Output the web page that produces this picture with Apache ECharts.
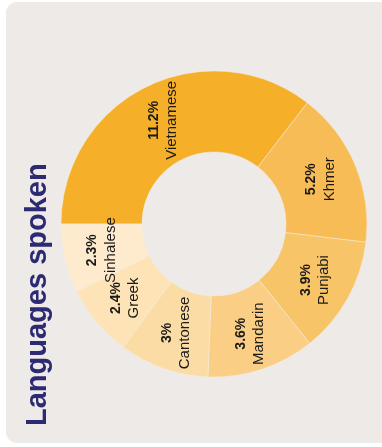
<!DOCTYPE html>
<html>
<head>
<meta charset="utf-8">
<script src="https://cdn.jsdelivr.net/npm/echarts@6/dist/echarts.min.js"></script>
<style>
  html, body { margin: 0; padding: 0; background: #ffffff; }
  #chart { width: 382px; height: 447px; }
</style>
</head>
<body>
<div id="chart"></div>
<script>
// languages, clockwise from 9 o'clock
const languages = ['Vietnamese', 'Khmer', 'Punjabi', 'Mandarin', 'Cantonese', 'Greek', 'Sinhalese']
const shares = [11.2, 5.2, 3.9, 3.6, 3, 2.4, 2.3]
const sliceColors = ['#F5AF28', '#F7BC55', '#F8C468', '#FACE85', '#FCDCA5', '#FDE3B6', '#FEEACD']

const myChart = echarts.init(document.getElementById('chart'))

const option = {
  backgroundColor: '#ffffff',
  animation: false,
  graphic: [
    {
      type: 'rect',
      z: -10,
      shape: { x: 6, y: 2, width: 400, height: 441, r: 11 },
      style: { fill: '#EEEAE7' }
    },
    {
      type: 'text',
      x: 38,
      y: 426,
      rotation: Math.PI / 2,
      style: {
        text: 'Languages spoken',
        font: 'bold 29px "Liberation Sans", Arial, sans-serif',
        fill: '#2B2A72',
        textAlign: 'left',
        textVerticalAlign: 'middle'
      }
    }
  ],
  series: [
    {
      type: 'pie',
      center: [214, 224],
      radius: [72, 153],
      startAngle: 180,
      clockwise: true,
      silent: true,
      avoidLabelOverlap: false,
      itemStyle: {
        borderColor: '#F3ECE2',
        borderWidth: 0.5
      },
      label: {
        show: true,
        position: 'inside',
        rotate: 90,
        color: '#1a1a1a',
        lineHeight: 18,
        formatter: p => `{v|${p.value}%}\n{n|${p.name}}`,
        rich: {
          v: { fontFamily: '"Liberation Sans", Arial, sans-serif', fontWeight: 'bold', fontSize: 14, lineHeight: 18, color: '#1a1a1a' },
          n: { fontFamily: '"Liberation Sans", Arial, sans-serif', fontSize: 15, lineHeight: 18, color: '#1a1a1a' }
        }
      },
      labelLayout: { hideOverlap: false },
      labelLine: { show: false },
      data: languages.map((name, i) => ({
        name: name,
        value: shares[i],
        itemStyle: { color: sliceColors[i] }
      }))
    }
  ]
}

myChart.setOption(option)
</script>
</body>
</html>
